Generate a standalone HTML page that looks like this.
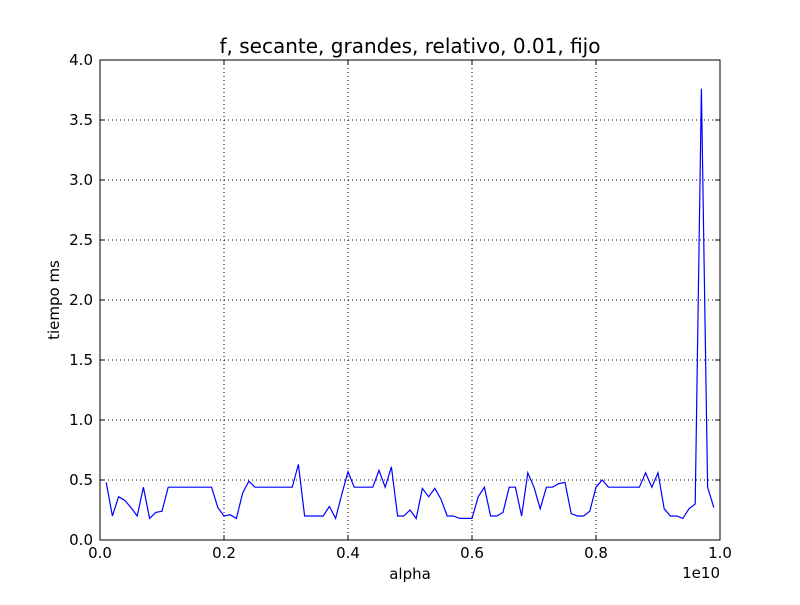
<!DOCTYPE html>
<html><head><meta charset="utf-8"><style>
body{margin:0;background:#fff;}
svg text{font-family:"DejaVu Sans","Liberation Sans",sans-serif;fill:#000;}
</style></head><body>
<svg id="chart" width="800" height="600" xmlns="http://www.w3.org/2000/svg">
<rect width="800" height="600" fill="#fff"/>
<g id="grid"></g>
<g id="ticks"></g>
<path id="series" fill="none" stroke="#0000ff" stroke-width="1.2"/>
<rect x="100" y="60" width="620" height="480" fill="none" stroke="#000" stroke-width="1"/>
<text x="410" y="53" font-size="20" text-anchor="middle">f, secante, grandes, relativo, 0.01, fijo</text>
<text x="410" y="579" font-size="15" text-anchor="middle">alpha</text>
<text x="59" y="300" font-size="15" text-anchor="middle" transform="rotate(-90 59 300)">tiempo ms</text>
<text x="720" y="578" font-size="15" text-anchor="end">1e10</text>
</svg>
<script>
const xTicks=[0,0.2,0.4,0.6,0.8,1.0];
const xTickLabels=["0.0","0.2","0.4","0.6","0.8","1.0"];
const yTicks=[0,0.5,1,1.5,2,2.5,3,3.5,4];
const yTickLabels=["0.0","0.5","1.0","1.5","2.0","2.5","3.0","3.5","4.0"];
const values=[0.48,0.20,0.36,0.33,0.27,0.20,0.44,0.18,0.23,0.24,
0.44,0.44,0.44,0.44,0.44,0.44,0.44,0.44,0.27,0.20,
0.21,0.18,0.39,0.49,0.44,0.44,0.44,0.44,0.44,0.44,
0.44,0.63,0.20,0.20,0.20,0.20,0.28,0.18,0.38,0.57,
0.44,0.44,0.44,0.44,0.58,0.44,0.61,0.20,0.20,0.25,
0.18,0.43,0.36,0.43,0.34,0.20,0.20,0.18,0.18,0.18,
0.36,0.44,0.20,0.20,0.23,0.44,0.44,0.20,0.56,0.44,
0.26,0.44,0.44,0.47,0.48,0.22,0.20,0.20,0.24,0.44,
0.50,0.44,0.44,0.44,0.44,0.44,0.44,0.56,0.44,0.56,
0.26,0.20,0.20,0.18,0.26,0.30,3.76,0.44,0.27];
const alphas=values.map((v,i)=>(i+1)/100);
const X=v=>100+v*620, Y=v=>540-v*120;
const NS="http://www.w3.org/2000/svg";
const grid=document.getElementById('grid'), ticks=document.getElementById('ticks');
function mk(tag,attrs,parent){const e=document.createElementNS(NS,tag);for(const k in attrs)e.setAttribute(k,attrs[k]);parent.appendChild(e);return e;}
xTicks.forEach((t,i)=>{
  const x=X(t);
  if(i>0&&i<xTicks.length-1){const g=mk('line',{x1:x,x2:x,y1:60,y2:540,stroke:'#000','stroke-dasharray':'1,3','stroke-width':1},grid);
  
  }
  mk('line',{x1:x,x2:x,y1:540,y2:535,stroke:'#000'},ticks);
  mk('line',{x1:x,x2:x,y1:60,y2:65,stroke:'#000'},ticks);
  const tx=mk('text',{x:x,y:558,'font-size':15,'text-anchor':'middle'},ticks);tx.textContent=xTickLabels[i];
  
  
});
yTicks.forEach((t,i)=>{
  const y=Y(t);
  if(i>0&&i<yTicks.length-1){const g=mk('line',{x1:100,x2:720,y1:y,y2:y,stroke:'#000','stroke-dasharray':'1,3','stroke-width':1},grid);
  
  }
  mk('line',{x1:100,x2:105,y1:y,y2:y,stroke:'#000'},ticks);
  mk('line',{x1:715,x2:720,y1:y,y2:y,stroke:'#000'},ticks);
  const tx=mk('text',{x:93,y:y+5,'font-size':15,'text-anchor':'end'},ticks);tx.textContent=yTickLabels[i];
  
  
});
document.getElementById('series').setAttribute('d',values.map((v,i)=>(i?'L':'M')+X(alphas[i]).toFixed(1)+','+Y(v).toFixed(1)).join(''));
</script>
</body></html>
